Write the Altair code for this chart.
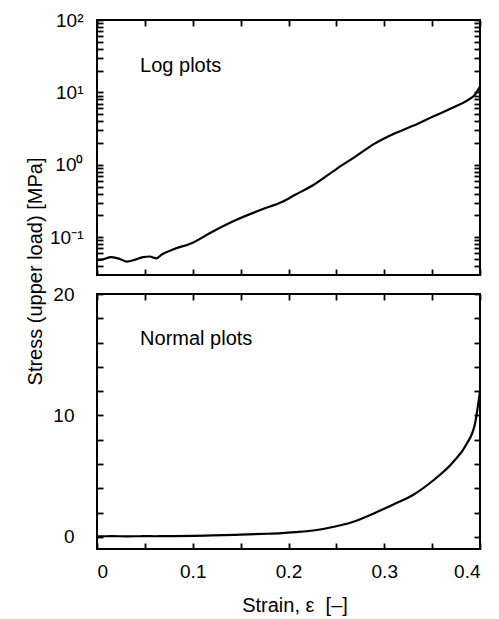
import altair as alt
import pandas as pd

# ---- data ----
strain = [0.0, 0.005, 0.015, 0.024, 0.031, 0.040, 0.048, 0.055, 0.062, 0.068,
          0.080, 0.100, 0.120, 0.144, 0.172, 0.193, 0.207, 0.226, 0.250, 0.271,
          0.289, 0.309, 0.330, 0.351, 0.372, 0.386, 0.395, 0.400]
stress = [0.048, 0.049, 0.053, 0.050, 0.046, 0.049, 0.053, 0.054, 0.051, 0.058,
          0.068, 0.084, 0.118, 0.170, 0.241, 0.305, 0.385, 0.525, 0.873, 1.33,
          1.93, 2.65, 3.45, 4.64, 6.17, 7.64, 9.4, 12.0]

x_ticks = [0, 0.05, 0.1, 0.15, 0.2, 0.25, 0.3, 0.35, 0.4]
log_ticks = [0.04, 0.05, 0.06, 0.07, 0.08, 0.09,
             0.1, 0.2, 0.3, 0.4, 0.5, 0.6, 0.7, 0.8, 0.9,
             1, 2, 3, 4, 5, 6, 7, 8, 9,
             10, 20, 30, 40, 50, 60, 70, 80, 90, 100]
lin_ticks = [0, 2, 4, 6, 8, 10, 12, 14, 16, 18, 20]

top_label = ["Log plots"]
top_label_x = [0.045]
top_label_y = [23]
bot_label = ["Normal plots"]
bot_label_x = [0.045]
bot_label_y = [16.3]

df = pd.DataFrame({"strain": strain, "stress": stress})
df_top_txt = pd.DataFrame({"x": top_label_x, "y": top_label_y, "t": top_label})
df_bot_txt = pd.DataFrame({"x": bot_label_x, "y": bot_label_y, "t": bot_label})

FONT = "Liberation Sans"
W, H = 383, 255

xscale = alt.Scale(domain=[0, 0.4], nice=False, zero=False)
logscale = alt.Scale(type="log", domain=[0.03, 100], nice=False)
linscale = alt.Scale(domain=[-1, 20], nice=False, zero=False)

common = dict(domain=False, grid=False, ticks=True, tickSize=6, tickWidth=1.8,
              tickColor="black", offset=-6, labelFont=FONT, labelFontSize=19,
              labelColor="black", labelOverlap=False, titleFont=FONT,
              titleFontWeight="normal", titleColor="black", titleFontSize=20)

x_expr = "(abs(datum.value*10 - round(datum.value*10)) < 1e-6) ? format(datum.value, '~g') : ''"
log_expr = ("datum.value == 100 ? '10²' : datum.value == 10 ? '10¹' : "
            "datum.value == 1 ? '10⁰' : abs(datum.value - 0.1) < 1e-9 ? '10⁻¹' : ''")
lin_expr = "(datum.value % 10 == 0) ? format(datum.value, 'd') : ''"

frame = alt.ViewBackground(stroke="black", strokeWidth=2, fill="white")

# ---------- top (log) panel ----------
top_line = alt.Chart(df).mark_line(color="black", strokeWidth=2.2, interpolate="monotone").encode(
    x=alt.X("strain:Q", scale=xscale,
            axis=alt.Axis(orient="bottom", values=x_ticks, labels=False, title=None, **common)),
    y=alt.Y("stress:Q", scale=logscale,
            axis=alt.Axis(orient="left", values=log_ticks, labelExpr=log_expr, labelPadding=14,
                          title="Stress (upper load) [MPa]", titleAngle=270, titleX=-68, titleY=251,
                          titleAlign="center", titleBaseline="middle", **common)),
)
top_mirror = alt.Chart(df).mark_line(opacity=0).encode(
    x=alt.X("strain:Q", scale=xscale,
            axis=alt.Axis(orient="top", values=x_ticks, labels=False, title=None, **common)),
    y=alt.Y("stress:Q", scale=logscale,
            axis=alt.Axis(orient="right", values=log_ticks, labels=False, title=None, **common)),
)
top_text = alt.Chart(df_top_txt).mark_text(align="left", baseline="middle", font=FONT,
                                            fontSize=20, color="black").encode(
    x=alt.X("x:Q", scale=xscale, axis=None),
    y=alt.Y("y:Q", scale=logscale, axis=None),
    text="t:N",
)
top = alt.layer(top_line, top_text, top_mirror).resolve_axis(
    x="independent", y="independent").properties(width=W, height=H, view=frame)

# ---------- bottom (linear) panel ----------
bot_line = alt.Chart(df).mark_line(color="black", strokeWidth=2.2, interpolate="monotone").encode(
    x=alt.X("strain:Q", scale=xscale,
            axis=alt.Axis(orient="bottom", values=x_ticks, labelExpr=x_expr, labelPadding=13,
                          title="Strain, ε\u00a0 [–]", titleX=197.5, titleY=62,
                          titleAlign="center", titleBaseline="middle", **common)),
    y=alt.Y("stress:Q", scale=linscale,
            axis=alt.Axis(orient="left", values=lin_ticks, labelExpr=lin_expr, labelPadding=23,
                          title=None, **common)),
)
bot_mirror = alt.Chart(df).mark_line(opacity=0).encode(
    x=alt.X("strain:Q", scale=xscale,
            axis=alt.Axis(orient="top", values=x_ticks, labels=False, title=None, **common)),
    y=alt.Y("stress:Q", scale=linscale,
            axis=alt.Axis(orient="right", values=lin_ticks, labels=False, title=None, **common)),
)
bot_text = alt.Chart(df_bot_txt).mark_text(align="left", baseline="middle", font=FONT,
                                            fontSize=20, color="black").encode(
    x=alt.X("x:Q", scale=xscale, axis=None),
    y=alt.Y("y:Q", scale=linscale, axis=None),
    text="t:N",
)
bottom = alt.layer(bot_line, bot_text, bot_mirror).resolve_axis(
    x="independent", y="independent").properties(width=W, height=H, view=frame)

chart = alt.vconcat(top, bottom, spacing=19, bounds="flush").properties(
    padding={"left": 16, "top": 2, "right": 5, "bottom": 5},
    background="white",
).configure_view(stroke="black", strokeWidth=2)

chart.save("out.html", embed_options={"renderer": "svg", "actions": False})
